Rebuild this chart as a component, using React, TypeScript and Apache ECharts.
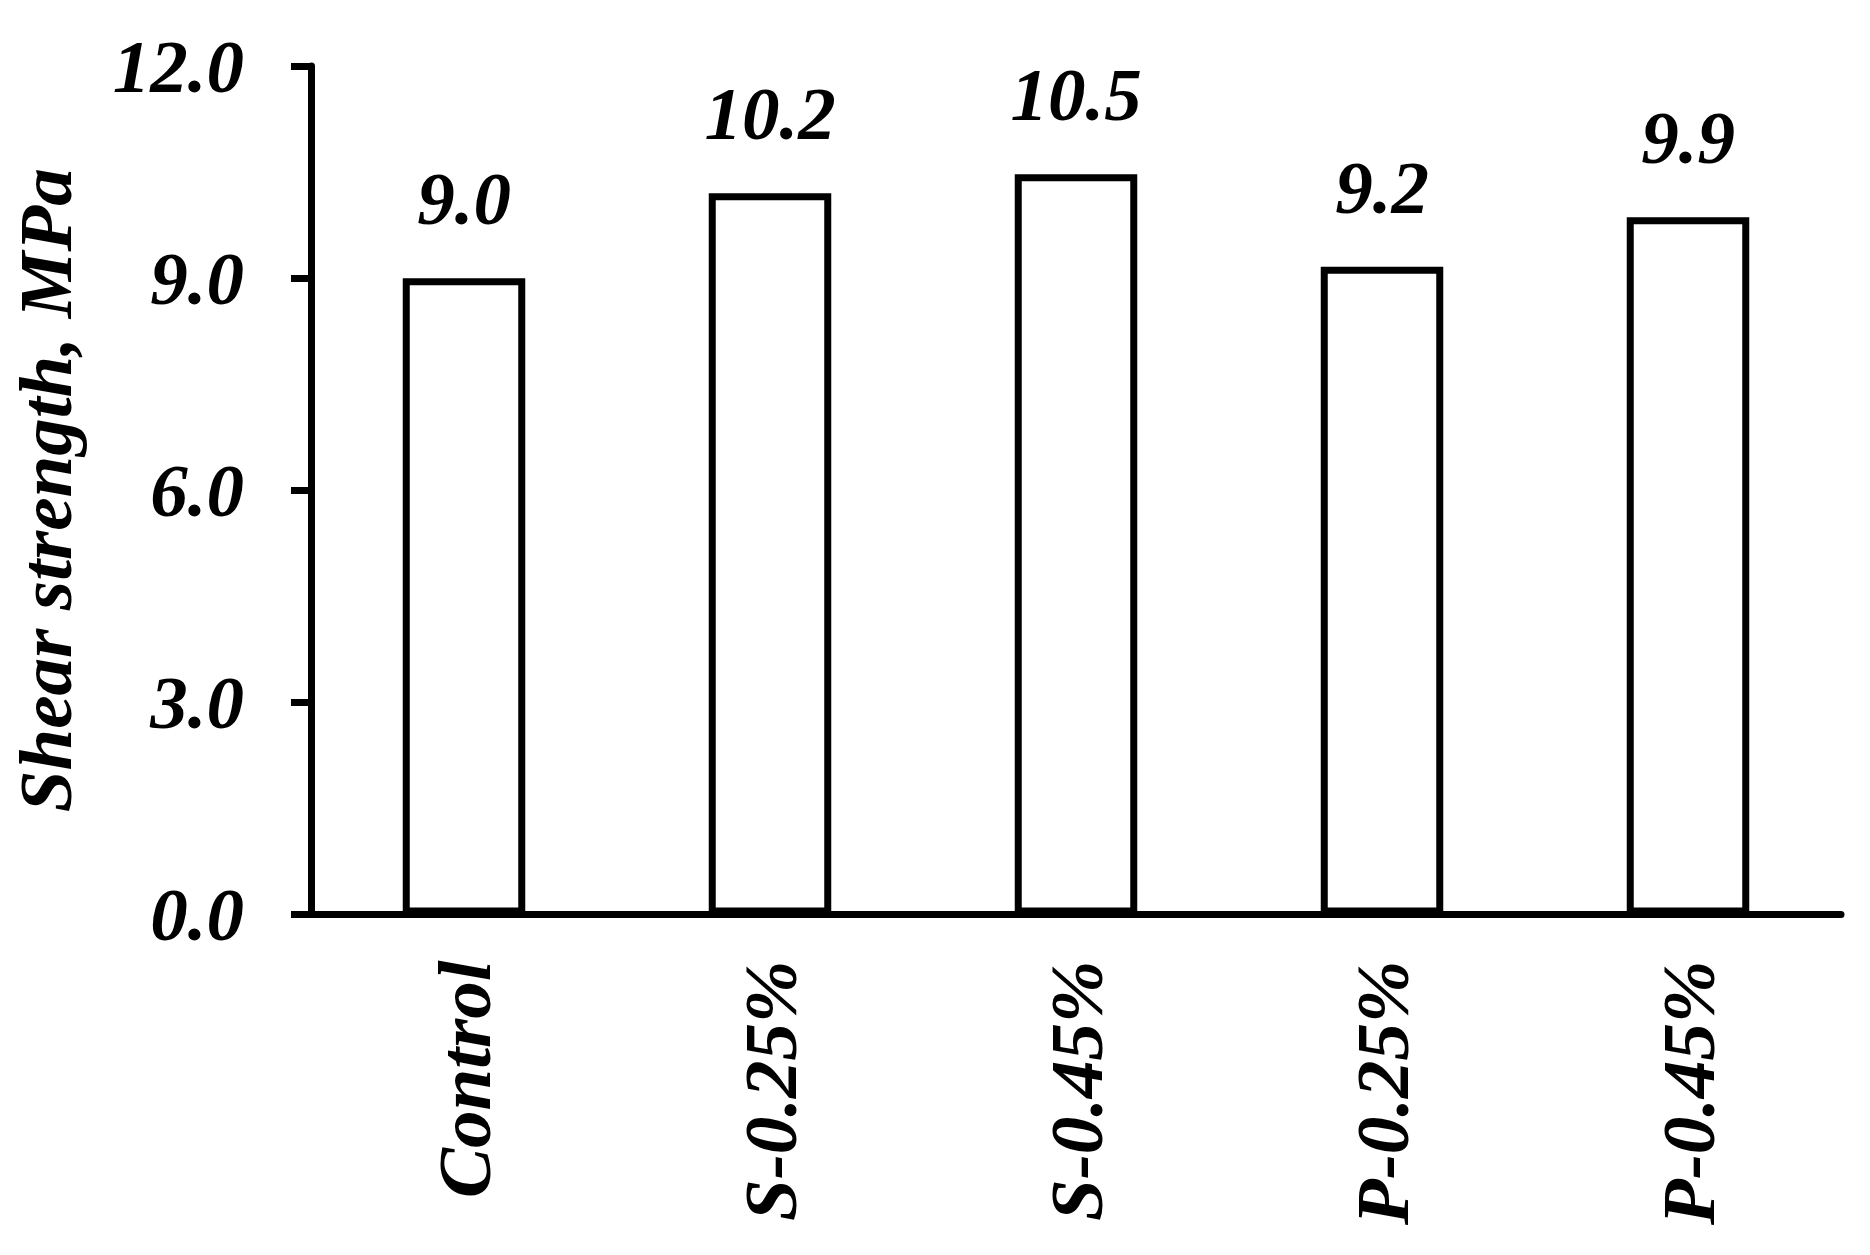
import React, { useEffect, useRef } from "react";
import * as echarts from "echarts";

const categories = ["Control", "S-0.25%", "S-0.45%", "P-0.25%", "P-0.45%"];
const shearStrength = [9.0, 10.2, 10.47, 9.16, 9.86];
const yTicks = { min: 0, max: 12, interval: 3 };

const FONT = "Liberation Serif, Times New Roman, serif";

export default function App() {
  const ref = useRef<HTMLDivElement>(null);
  useEffect(() => {
    document.body.style.margin = "0";
    const chart = echarts.init(ref.current!, null, { renderer: "svg" });
    const textBase = {
      fontFamily: FONT,
      fontWeight: "bold" as const,
      fontStyle: "italic" as const,
      fontSize: 75,
      color: "#000",
    };
    chart.setOption({
      animation: false,
      backgroundColor: "#fff",
      grid: { left: 305, right: 29, top: 66, bottom: 340.5, containLabel: false },
      xAxis: {
        type: "category",
        data: categories,
        boundaryGap: true,
        axisLine: { show: true, lineStyle: { color: "#000", width: 7 } },
        axisTick: { show: false },
        axisLabel: { ...textBase, rotate: 90, margin: 46, interval: 0 },
        splitLine: { show: false },
      },
      yAxis: {
        type: "value",
        min: yTicks.min,
        max: yTicks.max,
        interval: yTicks.interval,
        name: "Shear strength, MPa",
        nameLocation: "middle",
        nameGap: 228,
        nameRotate: 90,
        nameTextStyle: { ...textBase },
        axisLine: { show: true, lineStyle: { color: "#000", width: 7 } },
        axisTick: { show: true, length: 20, lineStyle: { color: "#000", width: 7 } },
        axisLabel: {
          ...textBase,
          margin: 67,
          formatter: (v: number) => v.toFixed(1),
        },
        splitLine: { show: false },
      },
      series: [
        {
          type: "bar",
          data: shearStrength,
          barWidth: 122.5,
          itemStyle: { color: "#fff", borderColor: "#000", borderWidth: 7 },
          label: {
            show: true,
            position: "top",
            distance: 42,
            ...textBase,
            formatter: (p: any) => Number(p.value).toFixed(1),
          },
        },
      ],
    });
    return () => chart.dispose();
  }, []);
  return (
    <div
      ref={ref}
      style={{ position: "fixed", left: 0, top: 0, width: 1870, height: 1255 }}
    />
  );
}
